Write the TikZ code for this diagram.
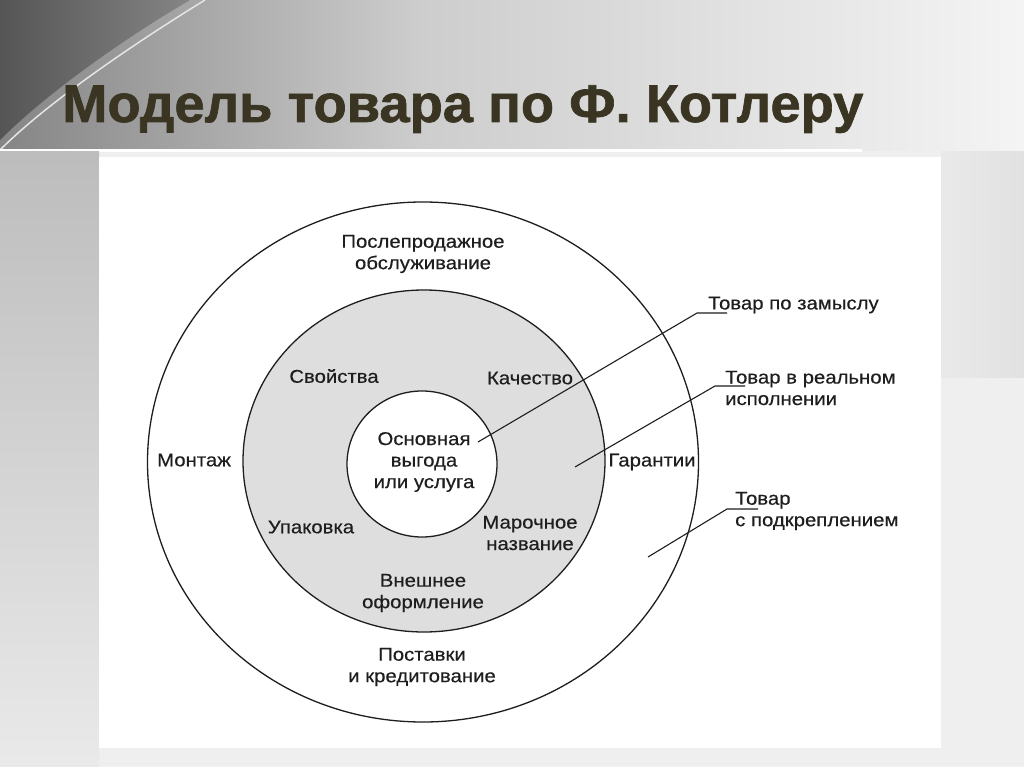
\documentclass[tikz,border=0pt]{standalone}
\usepackage{fontspec}
\setmainfont{Liberation Sans}
\newfontfamily\lblfont[FakeStretch=1.1,FakeBold=0.4]{Liberation Sans}
\newfontfamily\titlefont[FakeStretch=1.025,FakeBold=1.2]{Liberation Sans}
\usetikzlibrary{shapes.geometric}
\definecolor{titlec}{RGB}{58,52,34}
\definecolor{ringgray}{RGB}{222,222,222}
\definecolor{bglight}{RGB}{239,239,239}
\definecolor{bgdark}{RGB}{85,85,85}
\definecolor{bgmid}{RGB}{205,205,205}
\definecolor{bgtop}{RGB}{244,244,244}
\definecolor{inkc}{RGB}{30,30,30}
\begin{document}
\begin{tikzpicture}[x=1pt,y=-1pt,
  lbl/.style={font=\lblfont\fontsize{18.5}{21.5}\selectfont, align=center, inner sep=0pt, text=inkc},
  rlbl/.style={lbl, align=left, anchor=west},
  ring/.style={ellipse, draw=inkc, line width=1.3pt, inner sep=0pt},
  leader/.style={draw=inkc, line width=1.1pt}]
\useasboundingbox (0,0) rectangle (1024,767);
% background
\fill[bglight] (0,0) rectangle (1024,767);
\shade[left color=bgdark!60!bgmid, right color=bgmid] (0,0) rectangle (420,151);
\shade[left color=bgmid, right color=bgtop] (420,0) rectangle (1024,151);
\shade[left color=bgdark, right color=bgdark!60!bgmid] (0,0) -- (190,0) .. controls (130,35) and (50,90) .. (0,140) -- cycle;
\draw[white!80!gray, line width=1.5pt] (205,0) .. controls (140,40) and (50,100) .. (0,150);
\fill[white] (0,149.5) rectangle (862,152);
\shade[top color=bgmid!92!black, bottom color=bglight!95!gray] (0,152) rectangle (99,767);
\shade[left color=bglight!95!gray, right color=bgmid!60!white] (941,152) rectangle (1024,377);
\draw[white!85!gray, line width=1pt] (0,763) -- (1024,763);
% title
\node[font=\titlefont\bfseries\fontsize{53}{58}\selectfont, text=titlec, anchor=base west, inner sep=0pt] (title) at (62,122) {Модель товара по Ф. Котлеру};
% panel
\fill[white] (99,157) rectangle (941,748);
% rings
\node[ring, minimum width=551pt, minimum height=520pt] (outer) at (423,462) {};
\node[ring, fill=ringgray, minimum width=362pt, minimum height=342pt] (middle) at (424,461) {};
\node[ring, fill=white, minimum width=150pt, minimum height=146pt] (inner) at (422,464) {};
% labels in rings
\node[lbl] (after) at (423,254) {Послепродажное\\обслуживание};
\node[lbl] (props) at (334,376) {Свойства};
\node[lbl] (qual) at (530,378) {Качество};
\node[lbl] (mount) at (194,460) {Монтаж};
\node[lbl] (guar) at (652,462) {Гарантии};
\node[lbl] (core) at (424,462) {Основная\\выгода\\или услуга};
\node[lbl] (pack) at (311,527) {Упаковка};
\node[lbl] (brand) at (530,533) {Марочное\\название};
\node[lbl] (design) at (423,593) {Внешнее\\оформление};
\node[lbl] (deliv) at (422,667) {Поставки\\и кредитование};
% right labels
\node[rlbl] (l1) at (708,305) {Товар по замыслу};
\node[rlbl] (l2) at (725,388) {Товар в реальном\\исполнении};
\node[rlbl] (l3) at (735,511) {Товар\\с подкреплением};
% leaders
\coordinate (p1) at (478,442); \coordinate (k1) at (697,313); \coordinate (e1) at (727,313);
\coordinate (p2) at (575,467); \coordinate (k2) at (715,386); \coordinate (e2) at (745,386);
\coordinate (p3) at (648,557); \coordinate (k3) at (727,509); \coordinate (e3) at (758,509);
\draw[leader] (p1) -- (k1) -- (e1);
\draw[leader] (p2) -- (k2) -- (e2);
\draw[leader] (p3) -- (k3) -- (e3);
\end{tikzpicture}
\end{document}
